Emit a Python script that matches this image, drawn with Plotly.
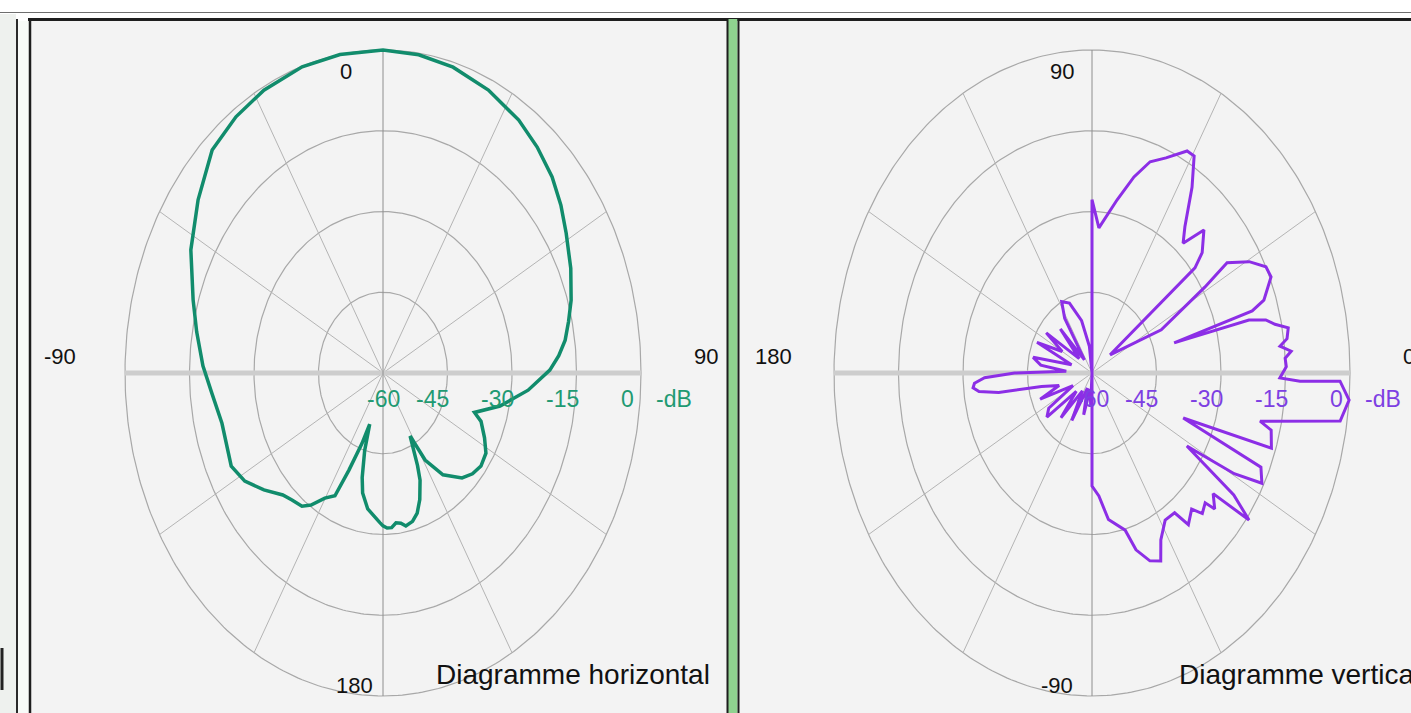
import numpy as np
import plotly.graph_objects as go

W, H = 1411, 713

# ---------------- data ----------------
# Horizontal diagram: compass angle (deg, 0 = up, clockwise), level in dB
h_angle = [-178.5, -172, -168, -166, -163.5, -162, -159.5, -156.3, -153.9, -149.8,
           -145.7, -142.7, -138.1, -134.2, -128.1, -122, -116.1, -110, -104, -95.3,
           -88.2, -80, -72.9, -62.9, -53.2, -43.8, -35.7, -27.8, -18.3, -9.6,
           0, 8, 16, 25, 33.9, 40.5, 47.2, 53, 58.6, 66,
           72.8, 77.5, 81.8, 85.5, 89.2, 95.4, 102.7, 109, 111.5, 117,
           121.9, 127.2, 132, 136.7, 143.6, 148.8, 151.7, 155, 156.6, 160,
           163, 166, 169.4, 171.5, 173.8, 176, 178.1, 180]
h_db = [-32.2, -34.5, -37.2, -40, -45, -50, -46, -40.3, -34.6, -33.1,
        -30.3, -28.9, -28.3, -27.5, -24.8, -22.1, -20.7, -21.2, -21.4, -20.0,
        -18.1, -16.0, -13.8, -9.8, -6.3, -2.6, -1.4, -0.6, -0.1, 0.0,
        0.0, -0.3, -0.9, -2.0, -3.4, -4.8, -6.4, -8.2, -10.1, -12.2,
        -14.2, -15.8, -17.2, -19.0, -21.2, -26.1, -32.1, -37.5, -35.5, -33.5,
        -31.8, -31.4, -32.0, -33.2, -36.5, -41.1, -46.7, -41.0, -38.3, -35.0,
        -32.8, -31.6, -31.1, -31.8, -32.0, -31.2, -31.2, -31.6]

# Vertical diagram: elevation angle (deg, 0 = right, counter-clockwise), level in dB
v_angle = [-90, -90, -86, -82, -75.2, -72.7, -68.9, -65.4, -62.7, -58.1,
           -53.5, -51.5, -47.5, -45.5, -42.5, -41.5, -38.5, -36.8, -34.5, -31.6,
           -29.5, -27.4, -24, -21.5, -18.5, -14.3, -12.9, -10.5, -8.8, -4.8,
           -1.5, -1.8, -1.2, 1.5, 3.5, 5, 6.5, 8, 10.4, 12,
           13.7, 15.1, 16.3, 17.2, 18.7, 23.2, 26, 29.5, 33.1, 31.3,
           26.5, 38.7, 39.2, 41.1, 45.6, 48.7, 51.5, 56, 59.5, 61.8,
           66.7, 71, 75, 79.7, 86.6, 90, 90, 97, 104, 112,
           118, 122, 126, 132, 138, 145, 150, 156, 162, 168,
           173, 177, 180, 182, 184, 185.7, 187.5, 189.5, 192, 197,
           202, 208, 213, 218, 223, 229, 236, 242, 249, 256,
           262, 267, 270]
v_db = [-60, -39, -37.1, -32.5, -29.8, -25.6, -22.6, -21.6, -25.1, -27.8,
        -27.7, -24.0, -25.7, -23.4, -24.3, -21.9, -24.0, -14.4, -20.0, -34.1,
        -22.0, -15.5, -17.0, -37.2, -16.0, -17.0, -19.9, -10.8, -1.6, 0.0,
        -2.3, -11.6, -16.3, -14.8, -15.0, -13.5, -16.0, -14.2, -13.6, -16.5,
        -18.4, -22.2, -40.1, -21.0, -17.8, -14.7, -15.0, -18.0, -22.5, -29.3,
        -42.0, -54.6, -29.1, -26.0, -22.8, -27.9, -25.3, -18.4, -13.2, -13.2,
        -16.5, -18.5, -22.3, -27.3, -33.0, -27.8, -60, -55, -50, -46,
        -45, -48, -57, -49, -56, -47, -52, -46, -55, -46,
        -48, -54, -42, -35, -32.6, -32.2, -33.5, -38, -48, -52,
        -47, -55, -48, -46.7, -55, -49, -56, -50, -57, -52,
        -57, -54, -60]

db_ticks = ["-60", "-45", "-30", "-15", "0", "-dB"]
h_dir_labels = ["0", "90", "180", "-90"]
v_dir_labels = ["90", "0", "-90", "180"]
h_title = "Diagramme horizontal"
v_title = "Diagramme vertical"

# ---------------- geometry (pixels) ----------------
RX, RY = 258.0, 323.0          # radius of the 0 dB ring
CY = 373.0
CX_L, CX_R = 383.0, 1092.0
PANEL_TOP = 21.0
PANEL_L = (31.0, 727.0)
PANEL_R = (739.0, 1411.0)

GREEN = "#118c6c"
GREEN_TXT = "#1f9a72"
PURPLE = "#8c2ee6"
PURPLE_TXT = "#7d3fe2"
FONT = "Liberation Sans, Arial, sans-serif"


def rnorm(db):
    return np.clip((np.asarray(db, dtype=float) + 60.0) / 60.0, 0, None)


fig = go.Figure()


def add_grid(xa, ya):
    t = np.linspace(0, 2 * np.pi, 400)
    xs, ys = [], []
    for r in [0.25, 0.5, 0.75, 1.0]:
        xs += list(r * np.cos(t)) + [None]
        ys += list(r * np.sin(t)) + [None]
    fig.add_trace(go.Scatter(x=xs, y=ys, mode="lines", xaxis=xa, yaxis=ya,
                             line=dict(color="#a8a8a8", width=1.2), hoverinfo="skip"))
    xs, ys = [], []
    for a in [30, 60, 120, 150, 210, 240, 300, 330]:
        th = np.radians(a)
        xs += [0, np.cos(th), None]
        ys += [0, np.sin(th), None]
    fig.add_trace(go.Scatter(x=xs, y=ys, mode="lines", xaxis=xa, yaxis=ya,
                             line=dict(color="#b4b4b4", width=1), hoverinfo="skip"))
    fig.add_trace(go.Scatter(x=[-1, 1], y=[0, 0], mode="lines", xaxis=xa, yaxis=ya,
                             line=dict(color="#cdcdcd", width=5), hoverinfo="skip"))
    fig.add_trace(go.Scatter(x=[0, 0], y=[-1, 1], mode="lines", xaxis=xa, yaxis=ya,
                             line=dict(color="#8e8e8e", width=1), hoverinfo="skip"))


add_grid("x", "y")
add_grid("x2", "y2")

# Horizontal diagram curve
th = np.radians(np.array(h_angle + [h_angle[0]]))
r = rnorm(h_db + [h_db[0]])
fig.add_trace(go.Scatter(x=r * np.sin(th), y=r * np.cos(th), mode="lines",
                         xaxis="x", yaxis="y",
                         line=dict(color=GREEN, width=3.5), hoverinfo="skip"))

# Vertical diagram curve
th = np.radians(np.array(v_angle))
r = rnorm(v_db)
fig.add_trace(go.Scatter(x=r * np.cos(th), y=r * np.sin(th), mode="lines",
                         xaxis="x2", yaxis="y2",
                         line=dict(color=PURPLE, width=3), hoverinfo="skip"))

# ---------------- axes ----------------
def xrange(cx, panel):
    return [(panel[0] - cx) / RX, (panel[1] - cx) / RX]


yr = [(CY - H) / RY, (CY - PANEL_TOP) / RY]
common = dict(showgrid=False, zeroline=False, showticklabels=False,
              showline=False, ticks="", fixedrange=True)
fig.update_layout(
    xaxis=dict(domain=[PANEL_L[0] / W, PANEL_L[1] / W], range=xrange(CX_L, PANEL_L),
               anchor="y", **common),
    yaxis=dict(domain=[0, 1 - PANEL_TOP / H], range=yr, anchor="x", **common),
    xaxis2=dict(domain=[PANEL_R[0] / W, PANEL_R[1] / W], range=xrange(CX_R, PANEL_R),
                anchor="y2", **common),
    yaxis2=dict(domain=[0, 1 - PANEL_TOP / H], range=yr, anchor="x2", **common),
)

# ---------------- annotations ----------------
ann = []
db_pos = [0.0, 0.19, 0.442, 0.694, 0.946, 1.128]
for xa, ya, col in [("x", "y", GREEN_TXT), ("x2", "y2", PURPLE_TXT)]:
    for lab, px_ in zip(db_ticks, db_pos):
        ann.append(dict(x=px_, y=-0.08, xref=xa, yref=ya, text=lab, showarrow=False,
                        xanchor="center", yanchor="middle",
                        font=dict(family=FONT, size=23, color=col)))

h_pos = [(-0.143, 0.932), (1.252, 0.05), (-0.112, -0.966), (-1.252, 0.05)]
for lab, (ax_, ay_) in zip(h_dir_labels, h_pos):
    ann.append(dict(x=ax_, y=ay_, xref="x", yref="y", text=lab, showarrow=False,
                    xanchor="center", yanchor="middle",
                    font=dict(family=FONT, size=22, color="#111111")))
v_pos = [(-0.116, 0.932), (1.229, 0.05), (-0.136, -0.966), (-1.236, 0.05)]
for lab, (ax_, ay_) in zip(v_dir_labels, v_pos):
    ann.append(dict(x=ax_, y=ay_, xref="x2", yref="y2", text=lab, showarrow=False,
                    xanchor="center", yanchor="middle",
                    font=dict(family=FONT, size=22, color="#111111")))

ann.append(dict(x=434 / W, y=1 - 674 / H, xref="paper", yref="paper", text=h_title,
                showarrow=False, xanchor="left", yanchor="middle",
                font=dict(family=FONT, size=28, color="#111111")))
ann.append(dict(x=1177 / W, y=1 - 674 / H, xref="paper", yref="paper", text=v_title,
                showarrow=False, xanchor="left", yanchor="middle",
                font=dict(family=FONT, size=28, color="#111111")))

# ---------------- frame shapes ----------------
def px(x):
    return x / W


def py(y):
    return 1 - y / H


P = dict(xref="paper", yref="paper")
shapes = [
    dict(type="rect", x0=0, x1=px(16), y0=0, y1=py(14), fillcolor="#eef1ee",
         line=dict(width=0), layer="below", **P),
    dict(type="rect", x0=px(18), x1=px(29), y0=0, y1=py(21), fillcolor="#f8fbf8",
         line=dict(width=0), layer="below", **P),
    dict(type="line", x0=0, x1=1, y0=py(12.5), y1=py(12.5),
         line=dict(color="#6e6e6e", width=1.2), layer="above", **P),
    dict(type="line", x0=px(28), x1=1, y0=py(19.5), y1=py(19.5),
         line=dict(color="#1e1e1e", width=3), layer="above", **P),
    dict(type="line", x0=px(17), x1=px(17), y0=0, y1=py(19),
         line=dict(color="#2a2a2a", width=2), layer="above", **P),
    dict(type="line", x0=px(30), x1=px(30), y0=0, y1=py(19),
         line=dict(color="#1e1e1e", width=2.5), layer="above", **P),
    dict(type="rect", x0=px(728), x1=px(737.5), y0=0, y1=py(19), fillcolor="#8fd28f",
         line=dict(width=0), layer="above", **P),
    dict(type="line", x0=px(727.5), x1=px(727.5), y0=0, y1=py(19),
         line=dict(color="#1e1e1e", width=2), layer="above", **P),
    dict(type="line", x0=px(738.5), x1=px(738.5), y0=0, y1=py(19),
         line=dict(color="#1e1e1e", width=2), layer="above", **P),
    dict(type="line", x0=px(2), x1=px(2), y0=py(648), y1=py(690),
         line=dict(color="#222222", width=3), layer="above", **P),
]

fig.update_layout(
    width=W, height=H, margin=dict(l=0, r=0, t=0, b=0, pad=0),
    paper_bgcolor="white", plot_bgcolor="#f3f3f3", showlegend=False,
    annotations=ann, shapes=shapes,
)

fig.write_html("out.html", config={"displayModeBar": False},
               post_script="document.body.style.margin='0';document.body.style.overflow='hidden';")
